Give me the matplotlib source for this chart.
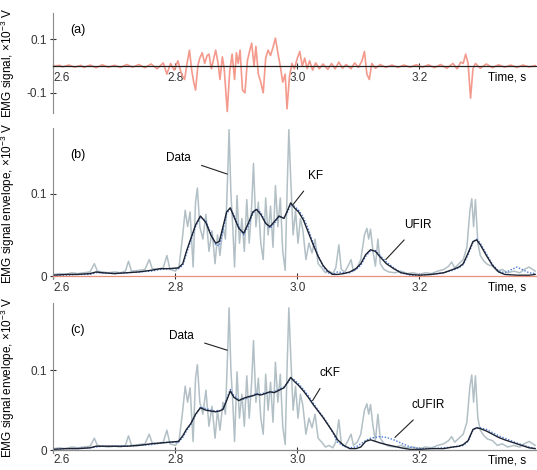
import matplotlib
matplotlib.use("Agg")
import matplotlib.pyplot as plt

plt.rcParams['font.family'] = ['Liberation Sans', 'DejaVu Sans']
plt.rcParams['mathtext.fontset'] = 'custom'
plt.rcParams['mathtext.rm'] = 'Liberation Sans'
plt.rcParams['mathtext.it'] = 'Liberation Sans:italic'
plt.rcParams['axes.unicode_minus'] = False

# raw EMG signal, panel (a), x1e-3 V
raw_t = [2.600, 2.610, 2.615, 2.625, 2.635, 2.645, 2.650, 2.660, 2.670, 2.680,
         2.690, 2.700, 2.710, 2.720, 2.730, 2.740, 2.750, 2.760, 2.770, 2.780,
         2.786, 2.792, 2.798, 2.804, 2.810, 2.815, 2.819, 2.823, 2.827, 2.830,
         2.833, 2.837, 2.840, 2.844, 2.848, 2.852, 2.855, 2.859, 2.862, 2.866,
         2.870, 2.873, 2.877, 2.880, 2.885, 2.889, 2.893, 2.897, 2.900, 2.903,
         2.906, 2.910, 2.914, 2.918, 2.922, 2.925, 2.929, 2.932, 2.936, 2.940,
         2.944, 2.948, 2.952, 2.956, 2.960, 2.964, 2.968, 2.972, 2.976, 2.980,
         2.983, 2.987, 2.991, 2.995, 3.000, 3.004, 3.008, 3.012, 3.016, 3.020,
         3.025, 3.030, 3.036, 3.042, 3.050, 3.056, 3.062, 3.068, 3.074, 3.080,
         3.088, 3.094, 3.100, 3.106, 3.110, 3.114, 3.118, 3.122, 3.128, 3.136,
         3.145, 3.155, 3.165, 3.175, 3.185, 3.195, 3.205, 3.215, 3.225, 3.235,
         3.245, 3.255, 3.262, 3.268, 3.272, 3.276, 3.280, 3.284, 3.288, 3.292,
         3.300, 3.310, 3.320, 3.330, 3.340, 3.350, 3.360, 3.370, 3.380, 3.390]
raw_v = [0.000, 0.003, -0.003, 0.004, -0.004, 0.003, -0.005, 0.004, -0.006, 0.005,
         -0.004, 0.003, -0.005, 0.006, -0.004, 0.006, -0.006, 0.008, -0.010, 0.012,
         -0.030, 0.010, -0.015, 0.020, -0.030, -0.050, 0.010, 0.060, -0.020, -0.060,
         -0.090, 0.005, 0.030, 0.050, 0.010, 0.040, 0.045, -0.010, 0.020, 0.060,
         0.010, -0.050, 0.035, -0.010, -0.170, -0.020, 0.045, -0.050, 0.050, 0.010,
         0.060, -0.090, -0.100, 0.020, 0.060, 0.086, 0.000, 0.074, -0.030, -0.060,
         -0.100, 0.030, 0.060, 0.040, 0.070, 0.105, 0.050, 0.000, -0.060, -0.030,
         -0.160, -0.040, 0.010, -0.010, 0.030, 0.055, 0.000, 0.030, -0.010, 0.020,
         -0.015, 0.012, -0.010, 0.008, -0.012, 0.010, -0.010, 0.015, -0.008, 0.006,
         -0.010, 0.012, -0.005, 0.020, 0.055, -0.030, -0.050, 0.010, -0.008, 0.006,
         -0.005, 0.004, -0.005, 0.004, -0.004, 0.005, -0.004, 0.005, -0.006, 0.006,
         -0.008, 0.010, -0.010, 0.015, 0.010, 0.045, 0.010, -0.120, -0.010, 0.010,
         -0.008, 0.008, -0.006, 0.005, -0.004, 0.004, -0.005, 0.004, -0.003, 0.002]

# measured envelope (grey "Data"), panels (b) and (c)
data_t = [2.600, 2.610, 2.620, 2.630, 2.640, 2.650, 2.660, 2.667, 2.672, 2.680,
          2.690, 2.700, 2.710, 2.718, 2.723, 2.728, 2.740, 2.750, 2.757, 2.762,
          2.770, 2.780, 2.786, 2.791, 2.800, 2.806, 2.812, 2.816, 2.820, 2.824,
          2.829, 2.833, 2.836, 2.840, 2.845, 2.850, 2.855, 2.860, 2.865, 2.869,
          2.873, 2.878, 2.882, 2.886, 2.888, 2.891, 2.894, 2.897, 2.901, 2.905,
          2.909, 2.913, 2.917, 2.921, 2.925, 2.928, 2.932, 2.936, 2.940, 2.944,
          2.948, 2.952, 2.956, 2.960, 2.964, 2.968, 2.972, 2.976, 2.980, 2.983,
          2.986, 2.989, 2.993, 2.997, 3.001, 3.005, 3.009, 3.014, 3.019, 3.024,
          3.029, 3.034, 3.040, 3.046, 3.052, 3.058, 3.063, 3.068, 3.072, 3.078,
          3.083, 3.088, 3.092, 3.098, 3.104, 3.110, 3.114, 3.117, 3.120, 3.124,
          3.128, 3.132, 3.136, 3.142, 3.150, 3.160, 3.170, 3.180, 3.190, 3.200,
          3.210, 3.220, 3.230, 3.240, 3.248, 3.253, 3.258, 3.265, 3.272, 3.278,
          3.283, 3.286, 3.289, 3.292, 3.296, 3.300, 3.306, 3.312, 3.320, 3.328,
          3.336, 3.345, 3.355, 3.365, 3.372, 3.380, 3.390]
data_v = [0.002, 0.003, 0.002, 0.004, 0.003, 0.004, 0.005, 0.015, 0.006, 0.005,
          0.004, 0.005, 0.004, 0.006, 0.018, 0.006, 0.007, 0.008, 0.020, 0.009,
          0.008, 0.010, 0.025, 0.008, 0.006, 0.012, 0.050, 0.080, 0.060, 0.078,
          0.011, 0.090, 0.107, 0.060, 0.045, 0.075, 0.030, 0.055, 0.015, 0.050,
          0.025, 0.060, 0.045, 0.130, 0.178, 0.100, 0.060, 0.011, 0.098, 0.040,
          0.070, 0.030, 0.093, 0.040, 0.085, 0.137, 0.060, 0.090, 0.040, 0.020,
          0.095, 0.050, 0.085, 0.035, 0.110, 0.060, 0.095, 0.030, 0.007, 0.100,
          0.178, 0.120, 0.050, 0.080, 0.040, 0.070, 0.056, 0.020, 0.040, 0.028,
          0.045, 0.015, 0.010, 0.004, 0.006, 0.003, 0.010, 0.038, 0.008, 0.005,
          0.012, 0.020, 0.006, 0.010, 0.020, 0.050, 0.058, 0.045, 0.057, 0.030,
          0.012, 0.045, 0.015, 0.008, 0.005, 0.004, 0.006, 0.003, 0.004, 0.002,
          0.004, 0.003, 0.006, 0.008, 0.012, 0.017, 0.010, 0.015, 0.020, 0.035,
          0.080, 0.094, 0.060, 0.093, 0.040, 0.025, 0.018, 0.014, 0.012, 0.006,
          0.008, 0.004, 0.006, 0.004, 0.008, 0.011, 0.006]

# filter estimates, common time grid
env_t = [2.600, 2.620, 2.640, 2.660, 2.670, 2.680, 2.700, 2.720, 2.740, 2.760,
         2.775, 2.790, 2.805, 2.812, 2.818, 2.825, 2.833, 2.841, 2.850, 2.858,
         2.866, 2.872, 2.878, 2.884, 2.890, 2.896, 2.904, 2.912, 2.920, 2.927,
         2.933, 2.940, 2.948, 2.955, 2.962, 2.970, 2.978, 2.984, 2.989, 2.995,
         3.002, 3.010, 3.018, 3.026, 3.034, 3.042, 3.050, 3.058, 3.066, 3.076,
         3.086, 3.096, 3.104, 3.112, 3.120, 3.128, 3.136, 3.146, 3.158, 3.170,
         3.185, 3.200, 3.220, 3.240, 3.255, 3.265, 3.272, 3.280, 3.288, 3.294,
         3.300, 3.310, 3.320, 3.330, 3.340, 3.360, 3.380, 3.390]
kf_b = [0.001, 0.002, 0.002, 0.003, 0.005, 0.004, 0.003, 0.004, 0.005, 0.007,
        0.009, 0.009, 0.010, 0.015, 0.030, 0.045, 0.062, 0.073, 0.065, 0.050,
        0.040, 0.042, 0.060, 0.078, 0.083, 0.072, 0.058, 0.052, 0.065, 0.078,
        0.081, 0.075, 0.064, 0.060, 0.066, 0.073, 0.070, 0.080, 0.089, 0.083,
        0.078, 0.068, 0.053, 0.038, 0.024, 0.013, 0.006, 0.002, 0.002, 0.003,
        0.005, 0.009, 0.015, 0.026, 0.032, 0.030, 0.023, 0.015, 0.009, 0.004,
        0.002, 0.001, 0.002, 0.004, 0.008, 0.011, 0.015, 0.028, 0.042, 0.044,
        0.038, 0.025, 0.013, 0.005, 0.002, 0.001, 0.001, 0.002]
ufir_b = [0.001, 0.001, 0.002, 0.002, 0.004, 0.004, 0.003, 0.004, 0.005, 0.006,
          0.008, 0.009, 0.009, 0.013, 0.027, 0.043, 0.060, 0.072, 0.067, 0.052,
          0.038, 0.037, 0.055, 0.076, 0.082, 0.074, 0.060, 0.050, 0.062, 0.076,
          0.082, 0.077, 0.065, 0.058, 0.064, 0.072, 0.071, 0.078, 0.087, 0.085,
          0.080, 0.071, 0.057, 0.040, 0.025, 0.012, 0.004, 0.002, 0.005, 0.004,
          0.004, 0.008, 0.013, 0.024, 0.031, 0.031, 0.025, 0.017, 0.010, 0.004,
          0.001, 0.001, 0.002, 0.004, 0.007, 0.010, 0.014, 0.026, 0.041, 0.045,
          0.040, 0.027, 0.014, 0.006, 0.004, 0.011, 0.004, 0.003]
ckf_c = [0.001, 0.002, 0.002, 0.003, 0.005, 0.005, 0.005, 0.005, 0.006, 0.008,
         0.009, 0.010, 0.011, 0.018, 0.026, 0.033, 0.045, 0.053, 0.050, 0.049,
         0.048, 0.049, 0.051, 0.062, 0.074, 0.066, 0.062, 0.065, 0.067, 0.068,
         0.070, 0.069, 0.071, 0.073, 0.072, 0.075, 0.078, 0.085, 0.091, 0.086,
         0.081, 0.074, 0.066, 0.057, 0.049, 0.041, 0.032, 0.023, 0.013, 0.006,
         0.002, 0.002, 0.004, 0.011, 0.013, 0.011, 0.009, 0.007, 0.005, 0.003,
         0.001, 0.001, 0.002, 0.002, 0.004, 0.005, 0.007, 0.012, 0.026, 0.028,
         0.027, 0.024, 0.020, 0.016, 0.013, 0.008, 0.003, 0.002]
cufir_c = [0.001, 0.002, 0.002, 0.003, 0.004, 0.005, 0.005, 0.005, 0.006, 0.007,
           0.009, 0.010, 0.010, 0.016, 0.024, 0.032, 0.044, 0.054, 0.052, 0.050,
           0.049, 0.049, 0.052, 0.064, 0.076, 0.068, 0.063, 0.064, 0.066, 0.069,
           0.071, 0.070, 0.072, 0.072, 0.073, 0.076, 0.079, 0.084, 0.090, 0.088,
           0.083, 0.076, 0.068, 0.059, 0.050, 0.042, 0.033, 0.022, 0.010, 0.005,
           0.003, 0.004, 0.008, 0.012, 0.015, 0.016, 0.017, 0.016, 0.013, 0.009,
           0.004, 0.002, 0.002, 0.003, 0.004, 0.005, 0.006, 0.011, 0.025, 0.028,
           0.028, 0.026, 0.022, 0.018, 0.015, 0.009, 0.004, 0.002]

x_ticks = [2.6, 2.8, 3.0, 3.2]
x_tick_labels = ['2.6', '2.8', '3.0', '3.2']

GREY = '#b2c0c6'
SPINE = '#8a8a8a'
FS = 8.5


def style_axis(ax, ylim, yticks, yticklabels, bottom_color, ylabel, xpad=1.5):
    ax.set_xlim(2.6, 3.393)
    ax.set_ylim(*ylim)
    for side in ['top', 'right']:
        ax.spines[side].set_visible(False)
    ax.spines['left'].set_color(SPINE)
    ax.spines['left'].set_linewidth(0.8)
    ax.spines['bottom'].set_position(('data', 0))
    ax.spines['bottom'].set_color(bottom_color)
    ax.spines['bottom'].set_linewidth(0.9)
    ax.set_yticks(yticks)
    ax.set_yticklabels(yticklabels)
    ax.set_xticks(x_ticks)
    ax.set_xticklabels(x_tick_labels)
    ax.tick_params(axis='both', direction='inout', length=5, width=0.8,
                   labelsize=FS, pad=2, colors='#333333')
    ax.tick_params(axis='x', pad=xpad)
    ax.get_xticklabels()[0].set_ha('left')
    ax.set_ylabel(ylabel, fontsize=FS)
    ax.yaxis.set_label_coords(-0.075, 0.5)
    ax.set_facecolor('none')
    ax.annotate('Time, s', xy=(3.312, 0), xytext=(0, -xpad - 2.5),
                textcoords='offset points', ha='left', va='top',
                fontsize=FS, annotation_clip=False)


def label_with_line(ax, text, xy_text, xy_point):
    ax.annotate(text, xy=xy_point, xytext=xy_text, fontsize=FS,
                ha='center', va='center',
                arrowprops=dict(arrowstyle='-', color='#222222', lw=0.8,
                                shrinkA=6, shrinkB=0))


fig = plt.figure(figsize=(5.37, 4.70), dpi=100)

# (a) raw signal
ax_a = fig.add_axes([0.0996, 0.760, 0.9004, 0.2128])
ax_a.plot(raw_t, raw_v, color='#f39a8c', lw=1.2)
style_axis(ax_a, (-0.175, 0.20), [-0.1, 0.1], ['-0.1', '0.1'], '#222222',
           r'EMG signal, $\times$10$^{-3}$ V')
ax_a.text(0.035, 0.80, '(a)', transform=ax_a.transAxes, fontsize=FS + 0.5)

# (b) KF and UFIR
ax_b = fig.add_axes([0.0996, 0.4074, 0.9004, 0.3202])
ax_b.plot(data_t, data_v, color=GREY, lw=1.1)
ax_b.plot(env_t, ufir_b, color='#4a78d8', lw=1.0, ls=(0, (1, 1.2)))
ax_b.plot(env_t, kf_b, color='#1c2230', lw=1.0)
style_axis(ax_b, (-0.003, 0.18), [0, 0.1], ['0', '0.1'], '#e8907c',
           r'EMG signal envelope, $\times$10$^{-3}$ V')
ax_b.text(0.035, 0.80, '(b)', transform=ax_b.transAxes, fontsize=FS + 0.5)
label_with_line(ax_b, 'Data', (2.805, 0.144), (2.885, 0.124))
label_with_line(ax_b, 'KF', (3.03, 0.122), (2.993, 0.087))
label_with_line(ax_b, 'UFIR', (3.198, 0.062), (3.145, 0.02))

# (c) cKF and cUFIR, raised a little so the tick labels stay inside
ax_c = fig.add_axes([0.0996, 0.037, 0.9004, 0.3183])
ax_c.plot(data_t, data_v, color=GREY, lw=1.1)
ax_c.plot(env_t, cufir_c, color='#4a78d8', lw=1.0, ls=(0, (1, 1.2)))
ax_c.plot(env_t, ckf_c, color='#1c2230', lw=1.0)
style_axis(ax_c, (-0.003, 0.184), [0, 0.1], ['0', '0.1'], SPINE,
           r'EMG signal envelope, $\times$10$^{-3}$ V', xpad=0.5)
ax_c.text(0.035, 0.80, '(c)', transform=ax_c.transAxes, fontsize=FS + 0.5)
label_with_line(ax_c, 'Data', (2.81, 0.143), (2.885, 0.125))
label_with_line(ax_c, 'cKF', (3.053, 0.097), (3.025, 0.062))
label_with_line(ax_c, 'cUFIR', (3.215, 0.056), (3.16, 0.016))

fig.savefig('out.png', dpi=100)
